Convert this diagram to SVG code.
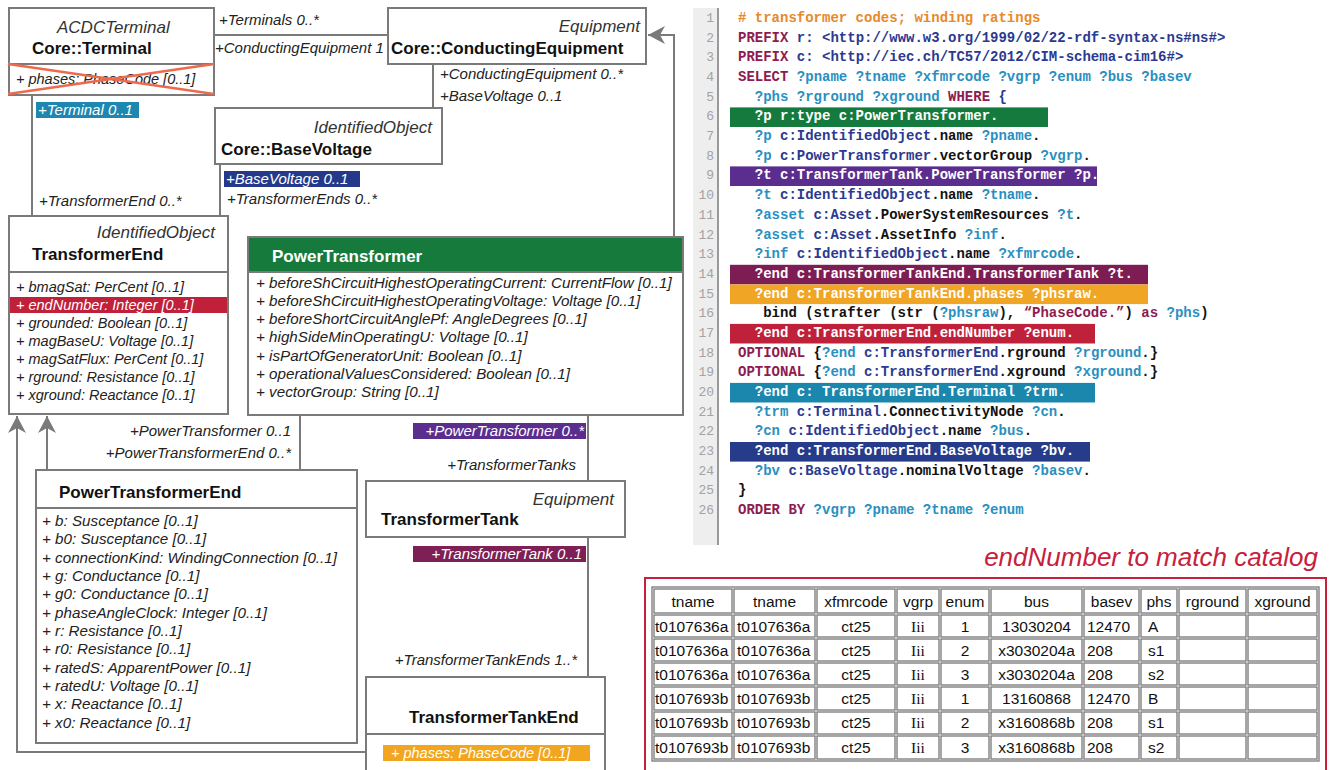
<svg xmlns="http://www.w3.org/2000/svg" width="1332" height="770" viewBox="0 0 1332 770">
<style>
  .box{fill:#fff;stroke:#7a7a7a;stroke-width:2}
  .div{stroke:#7a7a7a;stroke-width:2}
  .st{font-family:"Liberation Sans",Arial,sans-serif;font-style:italic;font-size:17px;fill:#333}
  .cn{font-family:"Liberation Sans",Arial,sans-serif;font-weight:bold;font-size:17px;fill:#111}
  .at{font-family:"Liberation Sans",Arial,sans-serif;font-style:italic;font-size:14.5px;fill:#222}
  .at15{font-size:15.2px}
  .rl{font-family:"Liberation Sans",Arial,sans-serif;font-style:italic;font-size:15px;fill:#222}
  .ln{fill:none;stroke:#7a7a7a;stroke-width:2}
  .code{font-family:"Liberation Mono","Courier New",monospace;font-weight:bold;font-size:14px;fill:#111}
  .num{font-family:"Liberation Mono","Courier New",monospace;font-size:13px;fill:#a3a3a3;text-anchor:end}
  .cm{fill:#e8892b}
  .kw{fill:#8e1b4f}
  .ns{fill:#2b3990}
  .vr{fill:#2a8fc0}
  .bk{fill:#111}
  .wt{fill:#fff}
  .tb{font-family:"Liberation Sans",Arial,sans-serif;font-size:15.5px;fill:#111}
  .tbs{font-family:"Liberation Serif","Times New Roman",serif;font-size:15.5px;fill:#111}
  .cell{fill:#fff;stroke:#777;stroke-width:1.3}
</style>
<defs>
  <marker id="gen" viewBox="-18 -10 20 20" refX="0" refY="0" markerWidth="20" markerHeight="20" orient="auto" markerUnits="userSpaceOnUse">
    <path d="M0,0 L-17,-9 L-12,0 L-17,9 Z" fill="#7a7a7a"/>
  </marker>
</defs>

<!-- associations and generalizations -->
<g id="connectors">
  <path class="ln" d="M214,35 H388"/>
  <path class="ln" d="M32,95 V216"/>
  <path class="ln" d="M433,64 V108"/>
  <path class="ln" d="M220,164 V216"/>
  <path class="ln" d="M674,237 V35 H648" marker-end="url(#gen)"/>
  <path class="ln" d="M300,415 V470"/>
  <path class="ln" d="M588,415 V481"/>
  <path class="ln" d="M588,537 V677"/>
  <path class="ln" d="M47,470 V416" marker-end="url(#gen)"/>
  <path class="ln" d="M366,752 H17 V416" marker-end="url(#gen)"/>

  <text class="rl" x="219" y="25">+Terminals 0..*</text>
  <text class="rl" x="215" y="53">+ConductingEquipment 1</text>
  <text class="rl" x="440" y="79">+ConductingEquipment 0..*</text>
  <text class="rl" x="440" y="101">+BaseVoltage 0..1</text>
  <rect x="36" y="102" width="103" height="16" fill="#1d87b0"/>
  <text class="rl wt" x="38" y="115">+Terminal 0..1</text>
  <text class="rl" x="39" y="206">+TransformerEnd 0..*</text>
  <rect x="224" y="171" width="136" height="16" fill="#24398a"/>
  <text class="rl wt" x="226" y="184">+BaseVoltage 0..1</text>
  <text class="rl" x="227" y="204">+TransformerEnds 0..*</text>
  <text class="rl" x="291" y="436" text-anchor="end">+PowerTransformer 0..1</text>
  <text class="rl" x="291" y="458" text-anchor="end">+PowerTransformerEnd 0..*</text>
  <rect x="413" y="423" width="173" height="16" fill="#5b2d8e"/>
  <text class="rl wt" x="584" y="436" text-anchor="end">+PowerTransformer 0..*</text>
  <text class="rl" x="576" y="470" text-anchor="end">+TransformerTanks</text>
  <rect x="413" y="546" width="173" height="16" fill="#7e1f56"/>
  <text class="rl wt" x="582" y="559" text-anchor="end">+TransformerTank 0..1</text>
  <text class="rl" x="577" y="665" text-anchor="end">+TransformerTankEnds 1..*</text>
</g>

<g id="terminal">
  <rect class="box" x="9" y="8" width="205" height="87"/>
  <line class="div" x1="9" y1="64" x2="214" y2="64"/>
  <text class="st" x="57" y="33">ACDCTerminal</text>
  <text class="cn" x="32" y="54">Core::Terminal</text>
  <text class="at" x="16" y="84" font-size="15">+ phases: PhaseCode [0..1]</text>
  <line x1="8" y1="64" x2="214" y2="94" stroke="#ee6a4d" stroke-width="2.5"/>
  <line x1="8" y1="94" x2="214" y2="64" stroke="#ee6a4d" stroke-width="2.5"/>
</g>

<g id="conducting-equipment">
  <rect class="box" x="388" y="8" width="258" height="56"/>
  <text class="st" x="640" y="32" text-anchor="end">Equipment</text>
  <text class="cn" x="391" y="54">Core::ConductingEquipment</text>
</g>

<g id="base-voltage">
  <rect class="box" x="215" y="108" width="227" height="56"/>
  <text class="st" x="432" y="133" text-anchor="end">IdentifiedObject</text>
  <text class="cn" x="221" y="155">Core::BaseVoltage</text>
</g>

<g id="transformer-end">
  <rect class="box" x="9" y="216" width="219" height="198"/>
  <line class="div" x1="9" y1="272" x2="228" y2="272"/>
  <text class="st" x="215" y="238" text-anchor="end">IdentifiedObject</text>
  <text class="cn" x="32" y="260">TransformerEnd</text>
  <rect x="10" y="297" width="217" height="16" fill="#c0203a"/>
  <text class="at" x="16" y="292">+ bmagSat: PerCent [0..1]</text>
  <text class="at wt" x="16" y="310">+ endNumber: Integer [0..1]</text>
  <text class="at" x="16" y="328">+ grounded: Boolean [0..1]</text>
  <text class="at" x="16" y="346">+ magBaseU: Voltage [0..1]</text>
  <text class="at" x="16" y="364">+ magSatFlux: PerCent [0..1]</text>
  <text class="at" x="16" y="382">+ rground: Resistance [0..1]</text>
  <text class="at" x="16" y="400">+ xground: Reactance [0..1]</text>
</g>

<g id="power-transformer">
  <rect class="box" x="248" y="237" width="435" height="178"/>
  <rect x="248" y="237" width="435" height="35" fill="#177a3d" stroke="#7a7a7a" stroke-width="2"/>
  <text class="cn wt" x="272" y="262">PowerTransformer</text>
  <text class="at at15" x="256" y="288">+ beforeShCircuitHighestOperatingCurrent: CurrentFlow [0..1]</text>
  <text class="at at15" x="256" y="306">+ beforeShCircuitHighestOperatingVoltage: Voltage [0..1]</text>
  <text class="at at15" x="256" y="324">+ beforeShortCircuitAnglePf: AngleDegrees [0..1]</text>
  <text class="at at15" x="256" y="342">+ highSideMinOperatingU: Voltage [0..1]</text>
  <text class="at at15" x="256" y="361">+ isPartOfGeneratorUnit: Boolean [0..1]</text>
  <text class="at at15" x="256" y="379">+ operationalValuesConsidered: Boolean [0..1]</text>
  <text class="at at15" x="256" y="397">+ vectorGroup: String [0..1]</text>
</g>

<g id="power-transformer-end">
  <rect class="box" x="36" y="470" width="321" height="273"/>
  <line class="div" x1="36" y1="508" x2="357" y2="508"/>
  <text class="cn" x="59" y="498">PowerTransformerEnd</text>
  <text class="at at15" x="42" y="526">+ b: Susceptance [0..1]</text>
  <text class="at at15" x="42" y="544">+ b0: Susceptance [0..1]</text>
  <text class="at at15" x="42" y="563">+ connectionKind: WindingConnection [0..1]</text>
  <text class="at at15" x="42" y="581">+ g: Conductance [0..1]</text>
  <text class="at at15" x="42" y="599">+ g0: Conductance [0..1]</text>
  <text class="at at15" x="42" y="618">+ phaseAngleClock: Integer [0..1]</text>
  <text class="at at15" x="42" y="636">+ r: Resistance [0..1]</text>
  <text class="at at15" x="42" y="654">+ r0: Resistance [0..1]</text>
  <text class="at at15" x="42" y="673">+ ratedS: ApparentPower [0..1]</text>
  <text class="at at15" x="42" y="691">+ ratedU: Voltage [0..1]</text>
  <text class="at at15" x="42" y="709">+ x: Reactance [0..1]</text>
  <text class="at at15" x="42" y="728">+ x0: Reactance [0..1]</text>
</g>

<g id="transformer-tank">
  <rect class="box" x="366" y="481" width="259" height="56"/>
  <text class="st" x="614" y="505" text-anchor="end">Equipment</text>
  <text class="cn" x="381" y="525">TransformerTank</text>
</g>

<g id="transformer-tank-end">
  <rect class="box" x="366" y="677" width="239" height="110"/>
  <line class="div" x1="366" y1="734" x2="605" y2="734"/>
  <text class="cn" x="409" y="723">TransformerTankEnd</text>
  <rect x="383" y="745" width="207" height="16" fill="#f2a51e"/>
  <text class="at wt" x="391" y="758" font-size="15">+ phases: PhaseCode [0..1]</text>
</g>

<!-- SPARQL query listing -->
<g id="query">
  <rect x="693" y="8" width="25" height="537" fill="#eeeeee"/>
  <line x1="718" y1="8" x2="718" y2="545" stroke="#999" stroke-width="2"/>
  <rect x="730" y="107.4" width="318" height="19.6" fill="#157a3e"/>
  <rect x="730" y="166.4" width="367" height="19.6" fill="#5b2d8e"/>
  <rect x="730" y="264.8" width="418" height="19.6" fill="#7d1d54"/>
  <rect x="730" y="284.5" width="418" height="19.6" fill="#f0a524"/>
  <rect x="730" y="323.9" width="365" height="19.6" fill="#c0213a"/>
  <rect x="730" y="382.9" width="365" height="19.6" fill="#1b87ad"/>
  <rect x="730" y="442" width="360" height="19.6" fill="#263b8a"/>

  <text class="num" x="714" y="22">1</text>
  <text class="num" x="714" y="41.7">2</text>
  <text class="num" x="714" y="61.4">3</text>
  <text class="num" x="714" y="81">4</text>
  <text class="num" x="714" y="100.7">5</text>
  <text class="num" x="714" y="120.4">6</text>
  <text class="num" x="714" y="140.1">7</text>
  <text class="num" x="714" y="159.8">8</text>
  <text class="num" x="714" y="179.4">9</text>
  <text class="num" x="714" y="199.1">10</text>
  <text class="num" x="714" y="218.8">11</text>
  <text class="num" x="714" y="238.5">12</text>
  <text class="num" x="714" y="258.2">13</text>
  <text class="num" x="714" y="277.8">14</text>
  <text class="num" x="714" y="297.5">15</text>
  <text class="num" x="714" y="317.2">16</text>
  <text class="num" x="714" y="336.9">17</text>
  <text class="num" x="714" y="356.6">18</text>
  <text class="num" x="714" y="376.2">19</text>
  <text class="num" x="714" y="395.9">20</text>
  <text class="num" x="714" y="415.6">21</text>
  <text class="num" x="714" y="435.3">22</text>
  <text class="num" x="714" y="455">23</text>
  <text class="num" x="714" y="474.6">24</text>
  <text class="num" x="714" y="494.3">25</text>
  <text class="num" x="714" y="514">26</text>

  <text class="code cm" x="738" y="22"># transformer codes; winding ratings</text>
  <text class="code" x="738" y="41.7"><tspan class="kw">PREFIX</tspan><tspan class="ns"> r: &lt;http://www.w3.org/1999/02/22-rdf-syntax-ns#ns#&gt;</tspan></text>
  <text class="code" x="738" y="61.4"><tspan class="kw">PREFIX</tspan><tspan class="ns"> c: &lt;http://iec.ch/TC57/2012/CIM-schema-cim16#&gt;</tspan></text>
  <text class="code" x="738" y="81"><tspan class="kw">SELECT</tspan><tspan class="vr"> ?pname ?tname ?xfmrcode ?vgrp ?enum ?bus ?basev</tspan></text>
  <text class="code" x="754.8" y="100.7"><tspan class="vr">?phs ?rground ?xground </tspan><tspan class="kw">WHERE</tspan><tspan class="ns"> {</tspan></text>
  <text class="code wt" x="754.8" y="120.4">?p r:type c:PowerTransformer.</text>
  <text class="code" x="754.8" y="140.1"><tspan class="vr">?p</tspan><tspan class="ns"> c:IdentifiedObject</tspan><tspan class="bk">.name</tspan><tspan class="vr"> ?pname</tspan><tspan class="bk">.</tspan></text>
  <text class="code" x="754.8" y="159.8"><tspan class="vr">?p</tspan><tspan class="ns"> c:PowerTransformer</tspan><tspan class="bk">.vectorGroup</tspan><tspan class="vr"> ?vgrp</tspan><tspan class="bk">.</tspan></text>
  <text class="code wt" x="754.8" y="179.4">?t c:TransformerTank.PowerTransformer ?p.</text>
  <text class="code" x="754.8" y="199.1"><tspan class="vr">?t</tspan><tspan class="ns"> c:IdentifiedObject</tspan><tspan class="bk">.name</tspan><tspan class="vr"> ?tname</tspan><tspan class="bk">.</tspan></text>
  <text class="code" x="754.8" y="218.8"><tspan class="vr">?asset</tspan><tspan class="ns"> c:Asset</tspan><tspan class="bk">.PowerSystemResources</tspan><tspan class="vr"> ?t</tspan><tspan class="bk">.</tspan></text>
  <text class="code" x="754.8" y="238.5"><tspan class="vr">?asset</tspan><tspan class="ns"> c:Asset</tspan><tspan class="bk">.AssetInfo</tspan><tspan class="vr"> ?inf</tspan><tspan class="bk">.</tspan></text>
  <text class="code" x="754.8" y="258.2"><tspan class="vr">?inf</tspan><tspan class="ns"> c:IdentifiedObject</tspan><tspan class="bk">.name</tspan><tspan class="vr"> ?xfmrcode</tspan><tspan class="bk">.</tspan></text>
  <text class="code wt" x="754.8" y="277.8">?end c:TransformerTankEnd.TransformerTank ?t.</text>
  <text class="code wt" x="754.8" y="297.5">?end c:TransformerTankEnd.phases ?phsraw.</text>
  <text class="code" x="763.2" y="317.2"><tspan class="bk">bind (strafter (str (</tspan><tspan class="vr">?phsraw</tspan><tspan class="bk">), </tspan><tspan class="kw">“PhaseCode.”</tspan><tspan class="bk">) </tspan><tspan class="kw">as</tspan><tspan class="vr"> ?phs</tspan><tspan class="bk">)</tspan></text>
  <text class="code wt" x="754.8" y="336.9">?end c:TransformerEnd.endNumber ?enum.</text>
  <text class="code" x="738" y="356.6"><tspan class="kw">OPTIONAL</tspan><tspan class="bk"> {</tspan><tspan class="vr">?end</tspan><tspan class="ns"> c:TransformerEnd</tspan><tspan class="bk">.rground</tspan><tspan class="vr"> ?rground</tspan><tspan class="bk">.}</tspan></text>
  <text class="code" x="738" y="376.2"><tspan class="kw">OPTIONAL</tspan><tspan class="bk"> {</tspan><tspan class="vr">?end</tspan><tspan class="ns"> c:TransformerEnd</tspan><tspan class="bk">.xground</tspan><tspan class="vr"> ?xground</tspan><tspan class="bk">.}</tspan></text>
  <text class="code wt" x="754.8" y="395.9">?end c: TransformerEnd.Terminal ?trm.</text>
  <text class="code" x="754.8" y="415.6"><tspan class="vr">?trm</tspan><tspan class="ns"> c:Terminal</tspan><tspan class="bk">.ConnectivityNode</tspan><tspan class="vr"> ?cn</tspan><tspan class="bk">.</tspan></text>
  <text class="code" x="754.8" y="435.3"><tspan class="vr">?cn</tspan><tspan class="ns"> c:IdentifiedObject</tspan><tspan class="bk">.name</tspan><tspan class="vr"> ?bus</tspan><tspan class="bk">.</tspan></text>
  <text class="code wt" x="754.8" y="455">?end c:TransformerEnd.BaseVoltage ?bv.</text>
  <text class="code" x="754.8" y="474.6"><tspan class="vr">?bv</tspan><tspan class="ns"> c:BaseVoltage</tspan><tspan class="bk">.nominalVoltage</tspan><tspan class="vr"> ?basev</tspan><tspan class="bk">.</tspan></text>
  <text class="code bk" x="738" y="494.3">}</text>
  <text class="code" x="738" y="514"><tspan class="kw">ORDER BY</tspan><tspan class="vr"> ?vgrp ?pname ?tname ?enum</tspan></text>
</g>

<!-- query result table -->
<g id="results">
  <text x="1318" y="566" text-anchor="end" font-family="'Liberation Sans',Arial,sans-serif" font-style="italic" font-size="26" fill="#c8203a">endNumber to match catalog</text>
  <rect x="645" y="578" width="681" height="200" fill="#fff" stroke="#c8203a" stroke-width="2"/>
  <rect x="652" y="587" width="667" height="174" fill="#fff" stroke="#777" stroke-width="1.3"/>
  <g id="cells">
    <!-- header row -->
    <rect class="cell" x="654" y="589" width="78" height="24"/>
    <rect class="cell" x="734" y="589" width="81" height="24"/>
    <rect class="cell" x="817" y="589" width="78" height="24"/>
    <rect class="cell" x="897" y="589" width="42" height="24"/>
    <rect class="cell" x="941" y="589" width="48" height="24"/>
    <rect class="cell" x="991" y="589" width="91" height="24"/>
    <rect class="cell" x="1084" y="589" width="55" height="24"/>
    <rect class="cell" x="1141" y="589" width="36" height="24"/>
    <rect class="cell" x="1179" y="589" width="67" height="24"/>
    <rect class="cell" x="1248" y="589" width="69" height="24"/>
    <!-- rows 1-6 -->
    <rect class="cell" x="654" y="615" width="78" height="22"/><rect class="cell" x="734" y="615" width="81" height="22"/><rect class="cell" x="817" y="615" width="78" height="22"/><rect class="cell" x="897" y="615" width="42" height="22"/><rect class="cell" x="941" y="615" width="48" height="22"/><rect class="cell" x="991" y="615" width="91" height="22"/><rect class="cell" x="1084" y="615" width="55" height="22"/><rect class="cell" x="1141" y="615" width="36" height="22"/><rect class="cell" x="1179" y="615" width="67" height="22"/><rect class="cell" x="1248" y="615" width="69" height="22"/>
    <rect class="cell" x="654" y="639" width="78" height="22"/><rect class="cell" x="734" y="639" width="81" height="22"/><rect class="cell" x="817" y="639" width="78" height="22"/><rect class="cell" x="897" y="639" width="42" height="22"/><rect class="cell" x="941" y="639" width="48" height="22"/><rect class="cell" x="991" y="639" width="91" height="22"/><rect class="cell" x="1084" y="639" width="55" height="22"/><rect class="cell" x="1141" y="639" width="36" height="22"/><rect class="cell" x="1179" y="639" width="67" height="22"/><rect class="cell" x="1248" y="639" width="69" height="22"/>
    <rect class="cell" x="654" y="663" width="78" height="22"/><rect class="cell" x="734" y="663" width="81" height="22"/><rect class="cell" x="817" y="663" width="78" height="22"/><rect class="cell" x="897" y="663" width="42" height="22"/><rect class="cell" x="941" y="663" width="48" height="22"/><rect class="cell" x="991" y="663" width="91" height="22"/><rect class="cell" x="1084" y="663" width="55" height="22"/><rect class="cell" x="1141" y="663" width="36" height="22"/><rect class="cell" x="1179" y="663" width="67" height="22"/><rect class="cell" x="1248" y="663" width="69" height="22"/>
    <rect class="cell" x="654" y="687" width="78" height="23"/><rect class="cell" x="734" y="687" width="81" height="23"/><rect class="cell" x="817" y="687" width="78" height="23"/><rect class="cell" x="897" y="687" width="42" height="23"/><rect class="cell" x="941" y="687" width="48" height="23"/><rect class="cell" x="991" y="687" width="91" height="23"/><rect class="cell" x="1084" y="687" width="55" height="23"/><rect class="cell" x="1141" y="687" width="36" height="23"/><rect class="cell" x="1179" y="687" width="67" height="23"/><rect class="cell" x="1248" y="687" width="69" height="23"/>
    <rect class="cell" x="654" y="712" width="78" height="22"/><rect class="cell" x="734" y="712" width="81" height="22"/><rect class="cell" x="817" y="712" width="78" height="22"/><rect class="cell" x="897" y="712" width="42" height="22"/><rect class="cell" x="941" y="712" width="48" height="22"/><rect class="cell" x="991" y="712" width="91" height="22"/><rect class="cell" x="1084" y="712" width="55" height="22"/><rect class="cell" x="1141" y="712" width="36" height="22"/><rect class="cell" x="1179" y="712" width="67" height="22"/><rect class="cell" x="1248" y="712" width="69" height="22"/>
    <rect class="cell" x="654" y="736" width="78" height="23"/><rect class="cell" x="734" y="736" width="81" height="23"/><rect class="cell" x="817" y="736" width="78" height="23"/><rect class="cell" x="897" y="736" width="42" height="23"/><rect class="cell" x="941" y="736" width="48" height="23"/><rect class="cell" x="991" y="736" width="91" height="23"/><rect class="cell" x="1084" y="736" width="55" height="23"/><rect class="cell" x="1141" y="736" width="36" height="23"/><rect class="cell" x="1179" y="736" width="67" height="23"/><rect class="cell" x="1248" y="736" width="69" height="23"/>
  </g>
  <g class="tb" text-anchor="middle">
    <text x="693" y="607">tname</text><text x="774.5" y="607">tname</text><text x="856" y="607">xfmrcode</text><text x="918" y="607">vgrp</text><text x="965" y="607">enum</text><text x="1036.5" y="607">bus</text><text x="1111.5" y="607">basev</text><text x="1159" y="607">phs</text><text x="1212.5" y="607">rground</text><text x="1282.5" y="607">xground</text>
  </g>
  <g class="tb">
    <text x="655" y="632">t0107636a</text><text x="737" y="632">t0107636a</text>
    <text x="655" y="656">t0107636a</text><text x="737" y="656">t0107636a</text>
    <text x="655" y="680">t0107636a</text><text x="737" y="680">t0107636a</text>
    <text x="655" y="704">t0107693b</text><text x="737" y="704">t0107693b</text>
    <text x="655" y="728">t0107693b</text><text x="737" y="728">t0107693b</text>
    <text x="655" y="753">t0107693b</text><text x="737" y="753">t0107693b</text>
    <text x="1087" y="632">12470</text><text x="1087" y="656">208</text><text x="1087" y="680">208</text>
    <text x="1087" y="704">12470</text><text x="1087" y="728">208</text><text x="1087" y="753">208</text>
    <text x="1148" y="632">A</text><text x="1148" y="656">s1</text><text x="1148" y="680">s2</text>
    <text x="1148" y="704">B</text><text x="1148" y="728">s1</text><text x="1148" y="753">s2</text>
  </g>
  <g class="tb" text-anchor="middle">
    <text x="856" y="632">ct25</text><text x="856" y="656">ct25</text><text x="856" y="680">ct25</text>
    <text x="856" y="704">ct25</text><text x="856" y="728">ct25</text><text x="856" y="753">ct25</text>
    <text x="965" y="632">1</text><text x="965" y="656">2</text><text x="965" y="680">3</text>
    <text x="965" y="704">1</text><text x="965" y="728">2</text><text x="965" y="753">3</text>
    <text x="1036.5" y="632">13030204</text><text x="1036.5" y="656">x3030204a</text><text x="1036.5" y="680">x3030204a</text>
    <text x="1036.5" y="704">13160868</text><text x="1036.5" y="728">x3160868b</text><text x="1036.5" y="753">x3160868b</text>
  </g>
  <g class="tbs" text-anchor="middle">
    <text x="918" y="632">Iii</text><text x="918" y="656">Iii</text><text x="918" y="680">Iii</text>
    <text x="918" y="704">Iii</text><text x="918" y="728">Iii</text><text x="918" y="753">Iii</text>
  </g>
</g>
</svg>
